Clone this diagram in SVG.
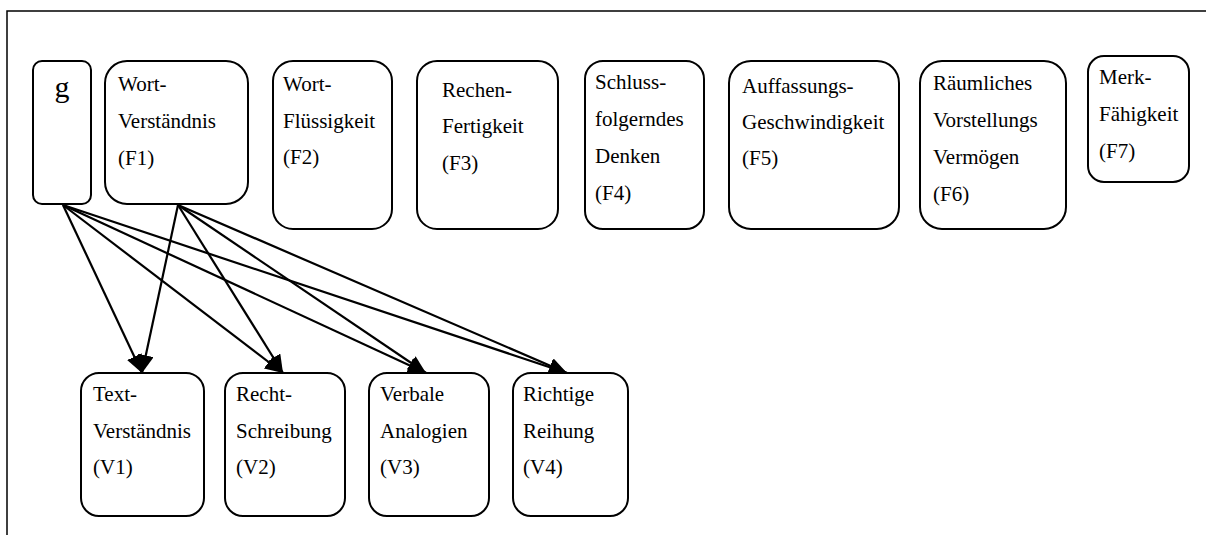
<svg xmlns="http://www.w3.org/2000/svg" width="1206" height="535" viewBox="0 0 1206 535">
  <style>
    .frame { fill: none; stroke: #000; stroke-width: 1.5; }
    .box { fill: #fff; stroke: #000; stroke-width: 2; }
    .lbl { font-family: "Liberation Serif", "Times New Roman", serif; font-size: 21px; fill: #000; }
    .big { font-family: "Liberation Serif", "Times New Roman", serif; font-size: 30px; fill: #000; }
    .edge { stroke: #000; stroke-width: 2.2; fill: none; marker-end: url(#arrow); }
  </style>
  <defs>
    <marker id="arrow" markerUnits="userSpaceOnUse" viewBox="0 0 18 16" markerWidth="18" markerHeight="16" refX="18" refY="8" orient="auto">
      <path d="M0,0 L18,8 L0,16 z" fill="#000"/>
    </marker>
  </defs>

  <rect width="1206" height="535" fill="#fff"/>

  <!-- open frame: top and left rules only -->
  <path class="frame" d="M7,535 L7,11 L1206,11"/>

  <!-- connectors are drawn first so the white node fills cover the arrow tips -->
  <g id="connectors">
    <line class="edge" x1="63" y1="205" x2="142" y2="373"/>
    <line class="edge" x1="63" y1="205" x2="283" y2="373"/>
    <line class="edge" x1="63" y1="205" x2="426" y2="373"/>
    <line class="edge" x1="63" y1="205" x2="567" y2="373"/>
    <line class="edge" x1="178" y1="205" x2="142" y2="373"/>
    <line class="edge" x1="178" y1="205" x2="283" y2="373"/>
    <line class="edge" x1="178" y1="205" x2="426" y2="373"/>
    <line class="edge" x1="178" y1="205" x2="567" y2="373"/>
  </g>

  <g id="g">
    <rect class="box" x="33" y="61" width="58" height="143" rx="9"/>
    <text class="big" x="62" y="97" text-anchor="middle">g</text>
  </g>

  <g id="F1">
    <rect class="box" x="105" y="61" width="143" height="143" rx="22"/>
    <text class="lbl" x="118" y="91">Wort-</text>
    <text class="lbl" x="118" y="128">Verständnis</text>
    <text class="lbl" x="118" y="165">(F1)</text>
  </g>

  <g id="F2">
    <rect class="box" x="273" y="61" width="119" height="168" rx="20"/>
    <text class="lbl" x="283" y="91">Wort-</text>
    <text class="lbl" x="283" y="128">Flüssigkeit</text>
    <text class="lbl" x="283" y="164">(F2)</text>
  </g>

  <g id="F3">
    <rect class="box" x="417" y="61" width="141" height="168" rx="20"/>
    <text class="lbl" x="442" y="97">Rechen-</text>
    <text class="lbl" x="442" y="133">Fertigkeit</text>
    <text class="lbl" x="442" y="170">(F3)</text>
  </g>

  <g id="F4">
    <rect class="box" x="585" y="61" width="119" height="168" rx="18"/>
    <text class="lbl" x="595" y="89">Schluss-</text>
    <text class="lbl" x="595" y="126">folgerndes</text>
    <text class="lbl" x="595" y="163">Denken</text>
    <text class="lbl" x="595" y="200">(F4)</text>
  </g>

  <g id="F5">
    <rect class="box" x="729" y="61" width="170" height="168" rx="22"/>
    <text class="lbl" x="742" y="93">Auffassungs-</text>
    <text class="lbl" x="742" y="129">Geschwindigkeit</text>
    <text class="lbl" x="742" y="165">(F5)</text>
  </g>

  <g id="F6">
    <rect class="box" x="920" y="61" width="146" height="168" rx="22"/>
    <text class="lbl" x="933" y="90">Räumliches</text>
    <text class="lbl" x="933" y="127">Vorstellungs</text>
    <text class="lbl" x="933" y="164">Vermögen</text>
    <text class="lbl" x="933" y="201">(F6)</text>
  </g>

  <g id="F7">
    <rect class="box" x="1088" y="56" width="101" height="126" rx="16"/>
    <text class="lbl" x="1099" y="84">Merk-</text>
    <text class="lbl" x="1099" y="121">Fähigkeit</text>
    <text class="lbl" x="1099" y="158">(F7)</text>
  </g>

  <g id="V1">
    <rect class="box" x="81" y="373" width="123" height="143" rx="18"/>
    <text class="lbl" x="93" y="401">Text-</text>
    <text class="lbl" x="93" y="438">Verständnis</text>
    <text class="lbl" x="93" y="474">(V1)</text>
  </g>

  <g id="V2">
    <rect class="box" x="225" y="373" width="120" height="143" rx="18"/>
    <text class="lbl" x="236" y="401">Recht-</text>
    <text class="lbl" x="236" y="438">Schreibung</text>
    <text class="lbl" x="236" y="474">(V2)</text>
  </g>

  <g id="V3">
    <rect class="box" x="369" y="373" width="120" height="143" rx="18"/>
    <text class="lbl" x="380" y="401">Verbale</text>
    <text class="lbl" x="380" y="438">Analogien</text>
    <text class="lbl" x="380" y="474">(V3)</text>
  </g>

  <g id="V4">
    <rect class="box" x="513" y="373" width="115" height="143" rx="18"/>
    <text class="lbl" x="523" y="401">Richtige</text>
    <text class="lbl" x="523" y="438">Reihung</text>
    <text class="lbl" x="523" y="474">(V4)</text>
  </g>
</svg>
